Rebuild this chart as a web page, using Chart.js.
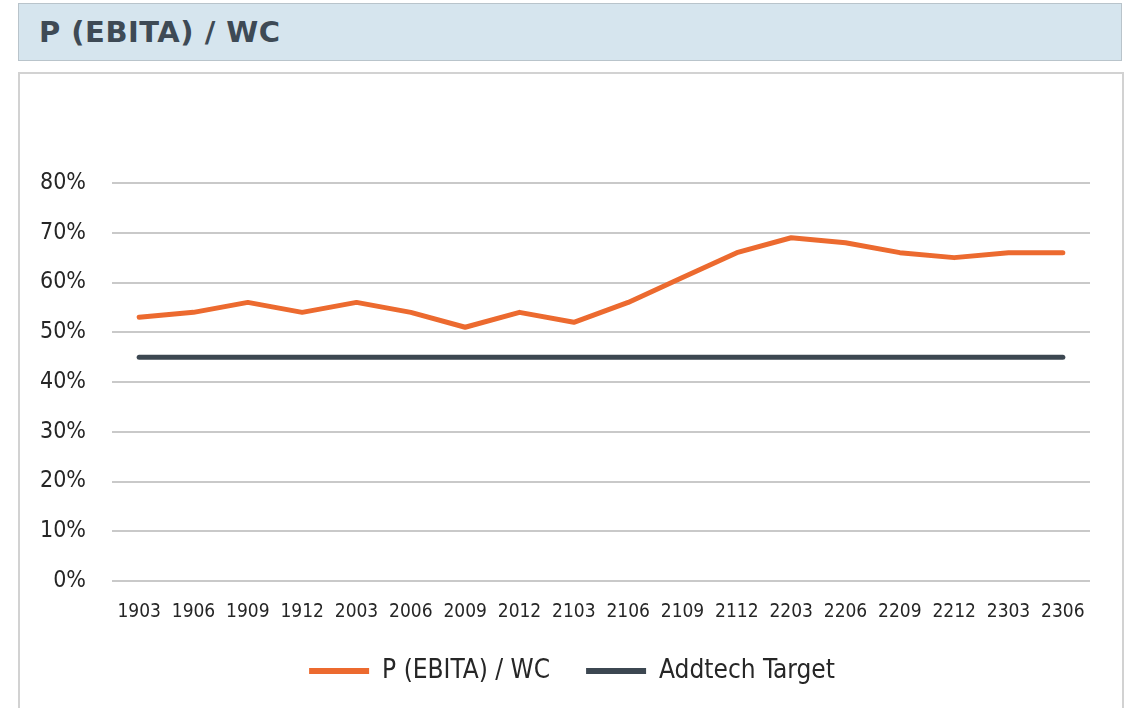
<!DOCTYPE html>
<html>
<head>
<meta charset="utf-8">
<script src="https://cdn.jsdelivr.net/npm/chart.js@4"></script>
<style>
  body { margin: 0; background: #ffffff; width: 1129px; height: 708px; overflow: hidden; position: relative; }
  #header { position: absolute; left: 18px; top: 3px; width: 1102px; height: 56px; background: #d6e5ee; border: 1px solid #b9c4cb; }
  #header h1 { margin: 0; position: absolute; left: 20px; top: 10px; font-size: 29px; line-height: 36px; font-weight: bold; letter-spacing: 0.5px; color: #3e4a55; font-family: "DejaVu Sans", sans-serif; }
  #box { position: absolute; left: 18px; top: 72px; width: 1102px; height: 660px; border: 2px solid #d2d2d2; background: #fff; }
  #wrap { position: absolute; left: 0; top: 0; width: 1129px; height: 760px; }
</style>
</head>
<body>
<div id="header"><h1>P (EBITA) / WC</h1></div>
<div id="box"></div>
<div id="wrap"><canvas id="chart" width="1129" height="760"></canvas></div>
<script>
const quarters = ["1903","1906","1909","1912","2003","2006","2009","2012","2103","2106","2109","2112","2203","2206","2209","2212","2303","2306"];
const pEbitaWc = [53, 54, 56, 54, 56, 54, 51, 54, 52, 56, 61, 66, 69, 68, 66, 65, 66, 66];
const targetLevel = [45, 45, 45, 45, 45, 45, 45, 45, 45, 45, 45, 45, 45, 45, 45, 45, 45, 45];
const yTicks = [0, 10, 20, 30, 40, 50, 60, 70, 80];

const orange = "#ec6a2f";
const navy = "#3c4751";
const font = "'Liberation Sans Narrow', 'DejaVu Sans Condensed', 'Open Sans', sans-serif";

// centre the legend on the white box instead of the padded canvas
const shiftLegend = {
    id: "shiftLegend",
    afterLayout: function(chart) {
        chart.legend.left += 27;
        chart.legend.right += 27;
    }
};

new Chart(document.getElementById("chart"), {
    type: "line",
    data: {
        labels: quarters,
        datasets: [
            {
                label: "P (EBITA) / WC",
                data: pEbitaWc,
                borderColor: orange,
                backgroundColor: orange,
                borderWidth: 5,
                pointRadius: 0,
                tension: 0,
                borderCapStyle: "round",
                borderJoinStyle: "round"
            },
            {
                label: "Addtech Target",
                data: targetLevel,
                borderColor: navy,
                backgroundColor: navy,
                borderWidth: 5,
                pointRadius: 0,
                borderCapStyle: "round"
            }
        ]
    },
    plugins: [shiftLegend],
    options: {
        responsive: false,
        animation: false,
        layout: { padding: { left: 0, right: 39, top: 183, bottom: 66 } },
        plugins: {
            tooltip: { enabled: false },
            legend: {
                position: "bottom",
                labels: {
                    color: "#262626",
                    font: { family: font, size: 26 },
                    boxWidth: 60,
                    boxHeight: 6,
                    padding: 36,
                    generateLabels: function(chart) {
                        return Chart.defaults.plugins.legend.labels.generateLabels(chart).map(function(item) {
                            item.lineWidth = 0;
                            return item;
                        });
                    }
                }
            }
        },
        scales: {
            x: {
                offset: true,
                grid: { display: false, drawTicks: false },
                border: { display: false },
                ticks: { color: "#262626", font: { family: font, size: 19 }, padding: 20, maxRotation: 0, autoSkip: false },
                afterFit: function(s) { s.height = 41; }
            },
            y: {
                min: 0,
                max: 80,
                afterBuildTicks: function(s) { s.ticks = yTicks.map(v => ({ value: v })); },
                grid: { color: "#c9c9c9", lineWidth: 2, drawTicks: false },
                border: { display: false },
                ticks: {
                    color: "#262626",
                    font: { family: font, size: 23 },
                    padding: 26,
                    callback: v => v + "%"
                },
                afterFit: function(s) { s.width = 112; }
            }
        }
    }
});
</script>
</body>
</html>
